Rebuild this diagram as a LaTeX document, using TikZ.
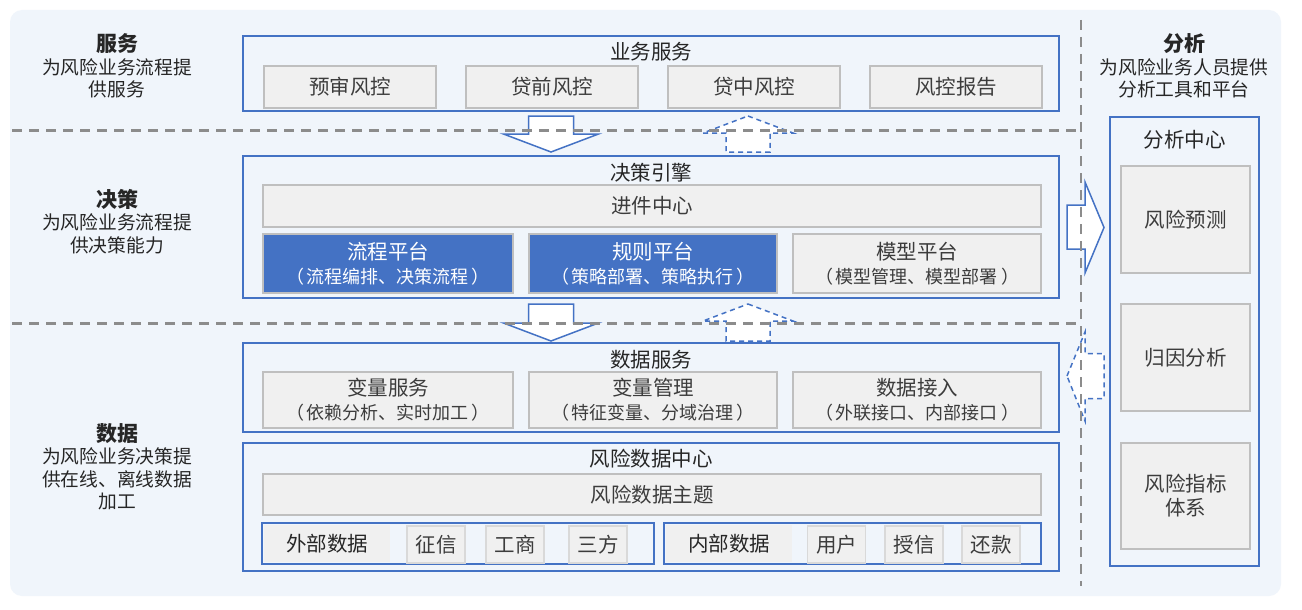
\documentclass[tikz,border=0pt]{standalone}
\usepackage{fontspec}
\setmainfont{Noto Sans CJK SC}
\usepackage{xcolor}
\usepackage{tikz}
\usetikzlibrary{positioning}

\definecolor{cblue}{HTML}{4472C4}
\definecolor{cbg}{HTML}{F0F5FB}
\definecolor{cgray}{HTML}{F0F0F0}
\definecolor{cedge}{HTML}{BFBFBF}
\definecolor{ctext}{HTML}{262626}
\definecolor{cdash}{HTML}{8C8C8C}

\begin{document}
\begin{tikzpicture}[
    x=1pt, y=-1pt,
    lane/.style={draw=cblue, line width=2pt, minimum width=816pt},
    item/.style={rectangle, draw=cedge, fill=cgray, line width=1.5pt, align=center, text=ctext!90, font=\fontsize{20.5}{24}\selectfont},
    hot/.style={item, fill=cblue, text=white},
    chip/.style={item, draw=cedge!60, minimum width=58pt, minimum height=37pt},
    ttl/.style={font=\fontsize{20.5}{24}\selectfont, text=ctext},
    note/.style={align=center, font=\fontsize{18.75}{22.5}\selectfont, text=ctext},
    flow/.style={draw=cblue, line width=1.5pt, fill=white, line join=miter},
    back/.style={flow, dash pattern=on 5pt off 4pt},
    sep/.style={draw=cdash, line width=3pt, dash pattern=on 10pt off 7pt}
]
\useasboundingbox (0,0) rectangle (1302,610);
\fill[white] (0,0) rectangle (1302,610);
\fill[cbg, rounded corners=12pt] (10,10) rectangle (1281,596);

% Layer notes
\node[note] (n1) at (117,66) {{\fontsize{21}{22.5}\selectfont\bfseries 服务}\\为风险业务流程提\\供服务};
\node[note] (n2) at (117,221.5) {{\fontsize{21}{22.5}\selectfont\bfseries 决策}\\为风险业务流程提\\供决策能力};
\node[note] (n3) at (117,467) {{\fontsize{21}{22.5}\selectfont\bfseries 数据}\\为风险业务决策提\\供在线、离线数据\\加工};
\node[note] (n4) at (1184,66) {{\fontsize{21}{22.5}\selectfont\bfseries 分析}\\为风险业务人员提供\\分析工具和平台};

% Service layer
\node[lane, minimum height=75pt] (svc) at (651,73.5) {};
\node[ttl] at (651,52) {业务服务};
\foreach \t [count=\i] in {预审风控,贷前风控,贷中风控,风控报告} {
    \node[item, minimum width=172pt, minimum height=42pt] (s\i) at ({350+202*(\i-1)},87) {\t};
}

% Decision engine
\node[lane, minimum height=142pt] (eng) at (651,227) {};
\node[ttl] at (651,173) {决策引擎};
\node[item, minimum width=778pt, minimum height=42pt] (e0) at (652,206) {进件中心};
\node[hot, minimum width=250pt, minimum height=59pt] (e1) at (388,263.5) {流程平台\\{\fontsize{18}{24}\selectfont （\,流程编排、决策流程\,）}};
\node[hot, minimum width=248pt, minimum height=59pt] (e2) at (653,263.5) {规则平台\\{\fontsize{18}{24}\selectfont （\,策略部署、策略执行\,）}};
\node[item, minimum width=248pt, minimum height=59pt] (e3) at (917,263.5) {模型平台\\{\fontsize{18}{24}\selectfont （\,模型管理、模型部署\,）}};

% Data service
\node[lane, minimum height=89pt] (dsv) at (651,387.5) {};
\node[ttl] at (651,360) {数据服务};
\node[item, minimum width=250pt, minimum height=56pt] (d1) at (388,400) {变量服务\\{\fontsize{18}{24}\selectfont （\,依赖分析、实时加工\,）}};
\node[item, minimum width=248pt, minimum height=56pt] (d2) at (653,400) {变量管理\\{\fontsize{18}{24}\selectfont （\,特征变量、分域治理\,）}};
\node[item, minimum width=248pt, minimum height=56pt] (d3) at (917,400) {数据接入\\{\fontsize{18}{24}\selectfont （\,外联接口、内部接口\,）}};

% Risk data center
\node[lane, minimum height=128pt] (rdc) at (651,507) {};
\node[ttl] at (651,459) {风险数据中心};
\node[item, minimum width=778pt, minimum height=41pt] (r0) at (652,494.5) {风险数据主题};

\node[lane, minimum width=392pt, minimum height=41pt] (ext) at (458,543.5) {};
\node[fill=cgray, minimum width=126pt, minimum height=37pt, ttl] (extl) at (327,543.5) {外部数据};
\foreach \t/\x [count=\i] in {征信/436, 工商/515, 三方/598} {
    \node[chip] (x\i) at (\x,544.5) {\t};
}

\node[lane, minimum width=377pt, minimum height=41pt] (int) at (852.5,543.5) {};
\node[fill=cgray, minimum width=126pt, minimum height=37pt, ttl] (intl) at (729,543.5) {内部数据};
\foreach \t/\x [count=\i] in {用户/836.5, 授信/914, 还款/991} {
    \node[chip] (y\i) at (\x,544.5) {\t};
}

% Analysis center
\node[lane, minimum width=149pt, minimum height=449pt] (ana) at (1184.5,341.5) {};
\node[ttl] at (1184.5,140) {分析中心};
\node[item, minimum width=129pt, minimum height=107pt] (a1) at (1185.5,219.5) {风险预测};
\node[item, minimum width=129pt, minimum height=107pt] (a2) at (1185.5,357.5) {归因分析};
\node[item, minimum width=129pt, minimum height=106pt] (a3) at (1185.5,496) {风险指标\\体系};

% Block arrows between layers
\foreach \t/\b in {116/152, 304/341} {
    \draw[flow] (528.5,\t) -- (573.5,\t) -- (573.5,{\b-18}) -- (598.5,{\b-18}) -- (551,\b)
        -- (503.5,{\b-18}) -- (528.5,{\b-18}) -- cycle;
    \draw[back] (748,\t) -- (793,{\t+17}) -- (770,{\t+17}) -- (770,\b) -- (726,\b)
        -- (726,{\t+17}) -- (703,{\t+17}) -- cycle;
}
\draw[flow] (1067,205) -- (1085,205) -- (1085,182) -- (1104,227.5) -- (1085,273)
    -- (1085,249) -- (1067,249) -- cycle;
\draw[back] (1067,376) -- (1085,332) -- (1085,353.5) -- (1104,353.5) -- (1104,398.5)
    -- (1085,398.5) -- (1085,421) -- cycle;

% Separators
\draw[sep] (12,130) -- (1081,130);
\draw[sep] (12,323) -- (1081,323);
\draw[sep, line width=2.5pt] (1081,20) -- (1081,586);

\end{tikzpicture}
\end{document}
